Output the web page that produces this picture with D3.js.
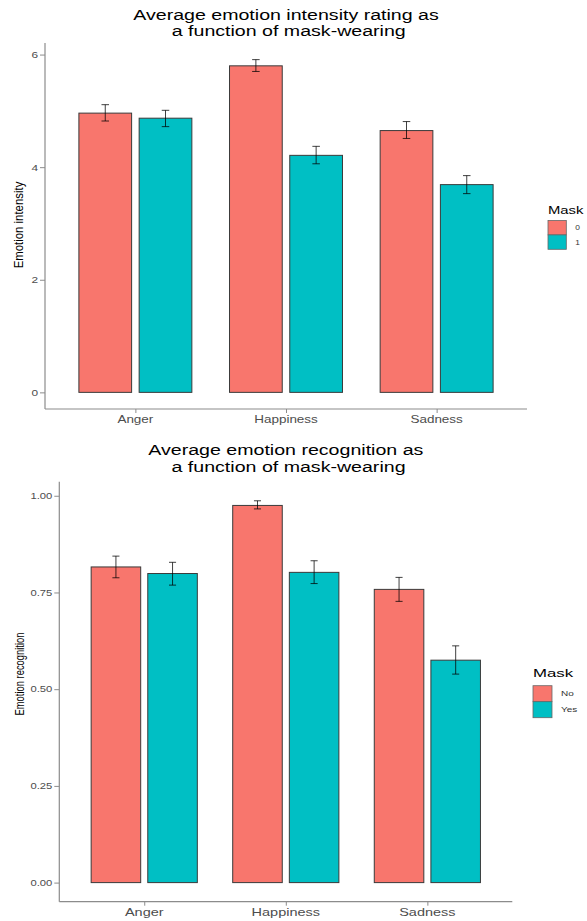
<!DOCTYPE html>
<html>
<head>
<meta charset="utf-8">
<script src="https://cdn.jsdelivr.net/npm/d3@7"></script>
<style>
  body { margin: 0; background: #fff; }
  svg { display: block; font-family: "Liberation Sans", Arial, sans-serif; }
</style>
</head>
<body>
<svg id="chart" width="587" height="921"></svg>
<script>
// categories shared by both charts
const emotions = ["Anger", "Happiness", "Sadness"];
const fillColors = ["#F8766D", "#00BFC4"];

// chart 1: intensity rating, Mask = 0 / 1
const intensityGroups = ["0", "1"];
const intensityMask0 = [4.96, 5.80, 4.65];
const intensityMask0Lo = [4.82, 5.70, 4.51];
const intensityMask0Hi = [5.11, 5.91, 4.81];
const intensityMask1 = [4.87, 4.21, 3.69];
const intensityMask1Lo = [4.72, 4.06, 3.53];
const intensityMask1Hi = [5.01, 4.37, 3.85];
const intensityTicks = [0, 2, 4, 6];

// chart 2: recognition, Mask = No / Yes
const recognitionGroups = ["No", "Yes"];
const recognitionNo = [0.816, 0.975, 0.758];
const recognitionNoLo = [0.788, 0.966, 0.727];
const recognitionNoHi = [0.844, 0.987, 0.789];
const recognitionYes = [0.799, 0.802, 0.575];
const recognitionYesLo = [0.769, 0.773, 0.539];
const recognitionYesHi = [0.828, 0.832, 0.612];
const recognitionTicks = [0, 0.25, 0.5, 0.75, 1];

const svg = d3.select("#chart");

// text is stretched horizontally in the reference, so every label gets its own x-scale
function label(g, x, y, str, size, sx, opts = {}) {
  return g.append("text")
    .attr("transform", `translate(${x},${y}) scale(${sx},1)` + (opts.rotate ? ` rotate(${opts.rotate})` : ""))
    .attr("text-anchor", opts.anchor || "start")
    .attr("font-size", size)
    .attr("fill", opts.fill || "#000")
    .attr("xml:space", "preserve")
    .text(str);
}

function drawPanel(p) {
  const g = svg.append("g");

  // ggplot style 5% expansion on the data range
  const hiMax = d3.max([...p.series[0].hi, ...p.series[1].hi]);
  const pad = hiMax * 0.05;
  const y = d3.scaleLinear().domain([-pad, hiMax + pad]).range([p.bottom, p.top]);
  const x = d3.scalePoint().domain(emotions).range([p.left, p.right]).padding(0.6);
  const step = x.step();

  // bars + error bars
  p.series.forEach((s, i) => {
    const off = (i === 0 ? -0.2 : 0.2) * step;
    const bw = 0.35 * step;
    g.selectAll(null)
      .data(emotions)
      .join("rect")
      .attr("x", (d) => x(d) + off - bw / 2)
      .attr("y", (d, j) => y(s.mean[j]))
      .attr("width", bw)
      .attr("height", (d, j) => y(0) - y(s.mean[j]))
      .attr("fill", fillColors[i])
      .attr("stroke", "#3a3a3a")
      .attr("stroke-width", 1);

    const cap = 0.025 * step;
    const eb = g.selectAll(null).data(emotions).join("g")
      .attr("stroke", "#000").attr("stroke-opacity", 0.75).attr("stroke-width", 1);
    eb.append("line")
      .attr("x1", (d) => x(d) + off).attr("x2", (d) => x(d) + off)
      .attr("y1", (d, j) => y(s.lo[j])).attr("y2", (d, j) => y(s.hi[j]));
    eb.append("line")
      .attr("x1", (d) => x(d) + off - cap).attr("x2", (d) => x(d) + off + cap)
      .attr("y1", (d, j) => y(s.lo[j])).attr("y2", (d, j) => y(s.lo[j]));
    eb.append("line")
      .attr("x1", (d) => x(d) + off - cap).attr("x2", (d) => x(d) + off + cap)
      .attr("y1", (d, j) => y(s.hi[j])).attr("y2", (d, j) => y(s.hi[j]));
  });

  // axes
  const yAxis = g.append("g")
    .attr("transform", `translate(${p.left},0)`)
    .call(d3.axisLeft(y).tickValues(p.ticks).tickSize(5).tickFormat(p.fmt));
  const xAxis = g.append("g")
    .attr("transform", `translate(0,${p.bottom})`)
    .call(d3.axisBottom(x).tickSize(4));
  [yAxis, xAxis].forEach((a) => {
    a.select(".domain").attr("stroke", "#8c8c8c").attr("stroke-width", 1.2);
    a.selectAll(".tick line").attr("stroke", "#8c8c8c");
    a.selectAll(".tick text").remove();
  });
  // outer tick remnants from d3 domain path: redraw as plain lines
  yAxis.select(".domain").attr("d", `M0,${p.bottom}V${p.top}`);
  xAxis.select(".domain").attr("d", `M${p.left},0H${p.right}`);

  p.ticks.forEach((t) => {
    label(g, p.left - 7, y(t) + p.yTickSize * 0.36, p.fmt(t), p.yTickSize, p.yTickSx,
      { anchor: "end", fill: "#4d4d4d" });
  });
  emotions.forEach((e) => {
    label(g, x(e), p.xTickBase, e, p.xTickSize, p.xTickSx, { anchor: "middle", fill: "#4d4d4d" });
  });

  // titles
  const cx = (p.left + p.right) / 2;
  label(g, cx, p.titleBase[0], p.title[0], p.titleSize, p.titleSx, { anchor: "middle" });
  label(g, cx, p.titleBase[1], p.title[1], p.titleSize, p.titleSx, { anchor: "middle" });
  label(g, p.yTitleX, p.yTitleY, p.yTitle, p.yTitleSize, p.yTitleSx, { anchor: "middle", rotate: -90 });

  // legend
  const L = p.legend;
  label(g, L.x, L.titleBase, "Mask", L.titleSize, L.titleSx);
  p.groups.forEach((grp, i) => {
    g.append("rect")
      .attr("x", L.x).attr("y", L.keyTop + i * L.keyH)
      .attr("width", L.keyW).attr("height", L.keyH)
      .attr("fill", fillColors[i]).attr("stroke", "#666").attr("stroke-width", 0.8);
    label(g, L.x + L.keyW + L.gap, L.keyTop + i * L.keyH + L.keyH / 2 + L.textSize * 0.36,
      grp, L.textSize, L.textSx, { fill: "#333" });
  });
}

drawPanel({
  series: [
    { mean: intensityMask0, lo: intensityMask0Lo, hi: intensityMask0Hi },
    { mean: intensityMask1, lo: intensityMask1Lo, hi: intensityMask1Hi },
  ],
  groups: intensityGroups,
  ticks: intensityTicks,
  fmt: d3.format("d"),
  left: 45, right: 527, top: 43, bottom: 409,
  yTickSize: 9.5, yTickSx: 1.25,
  xTickSize: 10, xTickSx: 1.35, xTickBase: 423,
  title: ["Average emotion intensity rating as", " a function of mask-wearing"],
  titleBase: [20, 36], titleSize: 14, titleSx: 1.4,
  yTitle: "Emotion intensity", yTitleX: 23, yTitleY: 225, yTitleSize: 11.4, yTitleSx: 1.2,
  legend: { x: 548, titleBase: 213.5, titleSize: 11, titleSx: 1.35,
    keyTop: 220.5, keyW: 18.3, keyH: 14.4, gap: 9, textSize: 7, textSx: 1.2 },
});

drawPanel({
  series: [
    { mean: recognitionNo, lo: recognitionNoLo, hi: recognitionNoHi },
    { mean: recognitionYes, lo: recognitionYesLo, hi: recognitionYesHi },
  ],
  groups: recognitionGroups,
  ticks: recognitionTicks,
  fmt: d3.format(".2f"),
  left: 59.3, right: 512.3, top: 481.7, bottom: 901.7,
  yTickSize: 9, yTickSx: 1.25,
  xTickSize: 10, xTickSx: 1.45, xTickBase: 915.5,
  title: ["Average emotion recognition as", " a function of mask-wearing"],
  titleBase: [455, 472.3], titleSize: 14, titleSx: 1.4,
  yTitle: "Emotion recognition", yTitleX: 24, yTitleY: 674, yTitleSize: 9.4, yTitleSx: 1.3,
  legend: { x: 533, titleBase: 677, titleSize: 11.6, titleSx: 1.45,
    keyTop: 685.7, keyW: 19, keyH: 16, gap: 9, textSize: 7.5, textSx: 1.33 },
});
</script>
</body>
</html>
